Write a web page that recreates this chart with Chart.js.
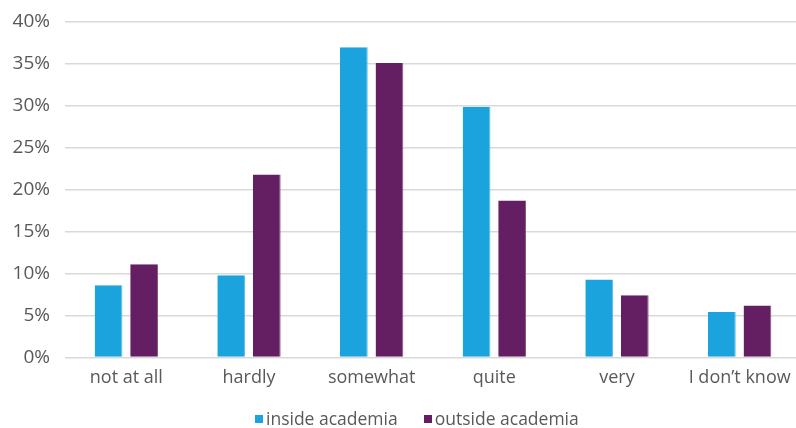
<!DOCTYPE html>
<html>
<head>
<meta charset="utf-8">
<script src="https://cdn.jsdelivr.net/npm/chart.js@4/dist/chart.umd.min.js"></script>
<style>
  html, body { margin: 0; padding: 0; background: #fff; overflow: hidden; }
  #wrap { position: relative; width: 796px; height: 428px; overflow: hidden; }
  #plot { position: absolute; left: 0; top: 0; width: 801px; height: 428px; }
  #legend {
    position: absolute; left: 255px; top: 408px; height: 20px;
    display: flex; align-items: center;
    font-family: "Open Sans", sans-serif; font-size: 17.5px; color: #595959;
    line-height: 20px; white-space: nowrap;
  }
  #legend .item { display: flex; align-items: center; margin-right: 26px; }
  #legend .box { width: 8px; height: 8px; margin-right: 3px; margin-top: 1px; }
</style>
</head>
<body>
<div id="wrap"><div id="plot"><canvas id="c"></canvas></div><div id="legend"></div></div>
<script>
const categories = ['not at all', 'hardly', 'somewhat', 'quite', 'very', 'I don\u2019t know'];
const insideAcademia = [8.6, 9.8, 37.0, 29.9, 9.3, 5.4];
const outsideAcademia = [11.1, 21.8, 35.1, 18.7, 7.4, 6.2];
const seriesNames = ['inside academia', 'outside academia'];

const textColor = '#595959';
const family = '"Open Sans", sans-serif';

const chart = new Chart(document.getElementById('c'), {
  type: 'bar',
  data: {
    labels: categories,
    datasets: [
      { label: seriesNames[0], data: insideAcademia, backgroundColor: '#1ba3dd', borderColor: '#56bbe6', borderWidth: { right: 1 }, barPercentage: 0.78, categoryPercentage: 0.58 },
      { label: seriesNames[1], data: outsideAcademia, backgroundColor: '#641f63', borderColor: '#8a5489', borderWidth: { right: 1 }, barPercentage: 0.78, categoryPercentage: 0.58 }
    ]
  },
  options: {
    responsive: true,
    maintainAspectRatio: false,
    animation: false,
    layout: { padding: { top: 22, right: 0, bottom: 37, left: 0 } },
    plugins: {
      tooltip: { enabled: false },
      legend: { display: false }
    },
    scales: {
      x: {
        grid: { display: false },
        border: { display: false },
        afterFit: (s) => { s.paddingLeft = 0; s.paddingRight = 0; },
        ticks: { color: textColor, font: { family: family, size: 18 }, padding: 2 }
      },
      y: {
        min: 0, max: 40,
        afterFit: (s) => { s.width = 65; s.paddingTop = 0; s.paddingBottom = 0; },
        grid: { color: '#d9d9d9', lineWidth: 1.5, drawTicks: false },
        border: { display: false },
        ticks: { stepSize: 5, color: textColor, font: { family: family, size: 19 }, padding: 15, callback: (v) => v + '%' }
      }
    }
  }
});

// Series key below the axis, built from the chart's datasets
const legendEl = document.getElementById('legend');
chart.data.datasets.forEach((ds) => {
  const item = document.createElement('div');
  item.className = 'item';
  const box = document.createElement('span');
  box.className = 'box';
  box.style.background = ds.backgroundColor;
  const txt = document.createElement('span');
  txt.textContent = ds.label;
  item.appendChild(box);
  item.appendChild(txt);
  legendEl.appendChild(item);
});
</script>
</body>
</html>
